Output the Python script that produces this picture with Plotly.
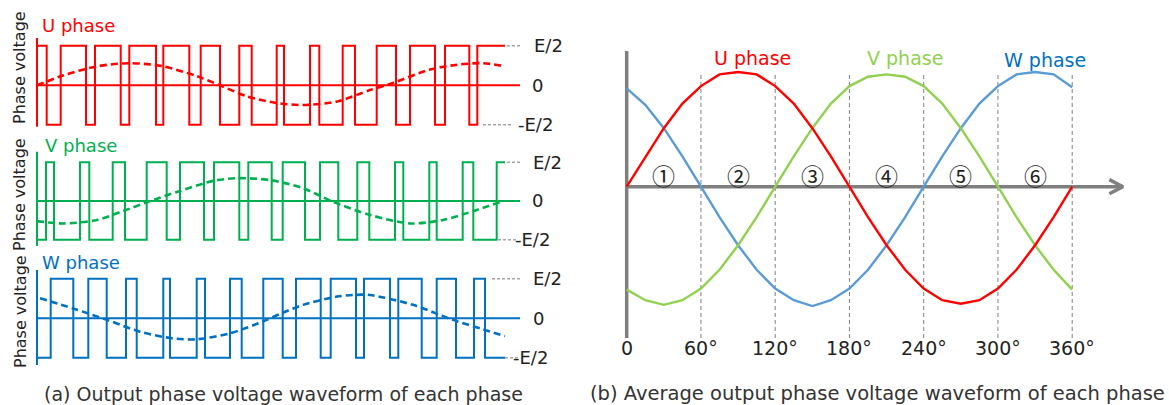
import plotly.graph_objects as go

W_PX, H_PX = 1169, 405

# ---------------- (a) PWM phase voltages ----------------
# time axis t in arbitrary units, levels in units of E/2
t_end = 468
U_start = 1
U_edges = [9.7, 23.7, 49, 58, 83.7, 92.3, 119, 126.3, 152.3, 163.7, 183, 202.3, 214.7,
           239.7, 247, 273, 282.3, 305.7, 318, 339.7, 359, 373, 398, 408, 432.3, 440.3]
V_start = -1
V_edges = [9, 17, 43, 52.3, 75.7, 88, 109.7, 129.7, 143, 167, 177, 202.3, 211.3, 234.7,
           245.7, 268, 283, 301.3, 320.3, 332.3, 358, 366.3, 392.3, 399.7, 425.7, 436.3, 459.7]
W_start = -1
W_edges = [13.7, 36.3, 51.3, 69.7, 89, 99.7, 126.3, 133, 159.7, 168, 193, 204.7, 226.3,
           245.7, 259, 283.7, 293.7, 319, 327, 353, 361.3, 384.7, 399.7, 419, 437, 448]

# average (dashed) waveforms
U_avg_t = [0, 26, 60, 93, 126, 160, 183, 210, 238, 266, 300, 333, 356, 393, 420, 446, 468]
U_avg_v = [0, 0.25, 0.48, 0.56, 0.48, 0.23, 0, -0.28, -0.44, -0.5, -0.41, -0.12, 0.06, 0.4, 0.52, 0.56, 0.48]
V_avg_t = [0, 26, 60, 86, 110, 143, 176, 200, 233, 266, 296, 333, 373, 406, 440, 466]
V_avg_v = [-0.52, -0.58, -0.49, -0.26, -0.03, 0.26, 0.52, 0.59, 0.54, 0.33, -0.02, -0.36, -0.58, -0.49, -0.23, 0]
W_avg_t = [3, 36, 70, 103, 136, 160, 193, 226, 243, 266, 300, 316, 333, 376, 416, 446, 468]
W_avg_v = [0.51, 0.25, -0.04, -0.34, -0.51, -0.53, -0.38, -0.08, 0.11, 0.34, 0.55, 0.59, 0.59, 0.34, -0.04, -0.28, -0.45]

level_labels = ["E/2", "0", "-E/2"]
level_values = [1, 0, -1]

# ---------------- (b) average phase voltages ----------------
deg = [0, 15, 30, 45, 60, 75, 90, 105, 120, 135, 150, 165, 180,
       195, 210, 225, 240, 255, 270, 285, 300, 315, 330, 345, 360]
U_b = [0, 0.25, 0.5, 0.71, 0.86, 0.96, 0.98, 0.96, 0.86, 0.71, 0.5, 0.26, 0,
       -0.26, -0.5, -0.71, -0.87, -0.97, -1.0, -0.97, -0.87, -0.71, -0.5, -0.26, 0]
V_b = [-0.88, -0.97, -1.01, -0.97, -0.87, -0.71, -0.5, -0.26, 0, 0.26, 0.5, 0.71, 0.86,
       0.94, 0.96, 0.94, 0.86, 0.71, 0.5, 0.26, 0, -0.26, -0.5, -0.71, -0.88]
W_b = [0.84, 0.7, 0.5, 0.26, 0, -0.26, -0.5, -0.71, -0.87, -0.97, -1.02, -0.97, -0.87,
       -0.71, -0.5, -0.26, 0, 0.26, 0.5, 0.71, 0.86, 0.96, 0.98, 0.96, 0.85]
tick_deg = [0, 60, 120, 180, 240, 300, 360]
tick_text = ["0", "60°", "120°", "180°", "240°", "300°", "360°"]
sector_deg = [30, 90, 150, 210, 270, 330]
sector_text = ["①", "②", "③", "④", "⑤", "⑥"]

FONT = "DejaVu Sans"
TXT = "#222222"
GRAY = "#7F7F7F"


def px_x(p):
    return p / W_PX


def px_y(p):
    return 1 - p / H_PX


def step_xy(start, edges, end):
    xs, ys, lvl = [0], [start], start
    for e in edges:
        xs += [e, e]
        ys += [lvl, -lvl]
        lvl = -lvl
    xs.append(end)
    ys.append(lvl)
    return xs, ys


fig = go.Figure()
ann = []

strips = [
    ("U phase", "#FF0000", U_start, U_edges, U_avg_t, U_avg_v, "", 85.3, 39.5, (1.2, -1.05), 68, (40, 25),
     [(470, 483, 1), (446, 476, -1)], [495, 493, 479]),
    ("V phase", "#00B050", V_start, V_edges, V_avg_t, V_avg_v, "2", 201.0, 38.7, (1.27, -1.16), 195, (43, 145),
     [(470, 483, 1), (461, 480, -1)], [494, 493, 476]),
    ("W phase", "#0070C0", W_start, W_edges, W_avg_t, W_avg_v, "3", 318.3, 39.5, (1.22, -1.18), 312, (40, 262),
     [(455, 483, 1), (468, 483, -1)], [494, 494, 474]),
]

x_lo_px, x_hi_px = 30, 590
t_lo = -7
t_hi = t_lo + (x_hi_px - x_lo_px)
layout_axes = {}
for (name, col, st, edges, at, av, suf, zpx, upx, ext, lab_px, name_px, dashes, labx) in strips:
    xa, ya = "x" + suf, "y" + suf
    ylo, yhi = -1.3, 1.3
    top_px = zpx - yhi * upx
    bot_px = zpx - ylo * upx
    layout_axes["xaxis" + suf] = dict(domain=[px_x(x_lo_px), px_x(x_hi_px)], range=[t_lo, t_hi],
                                      visible=False, anchor=ya)
    layout_axes["yaxis" + suf] = dict(domain=[px_y(bot_px), px_y(top_px)], range=[ylo, yhi],
                                      visible=False, anchor=xa)
    fig.add_trace(go.Scatter(x=[0, 0], y=[ext[0], ext[1]], mode="lines", xaxis=xa, yaxis=ya,
                             line=dict(color=col, width=2), hoverinfo="skip"))
    fig.add_trace(go.Scatter(x=[0, 483], y=[0, 0], mode="lines", xaxis=xa, yaxis=ya,
                             line=dict(color=col, width=2), hoverinfo="skip"))
    for (d0, d1, lv) in dashes:
        fig.add_trace(go.Scatter(x=[d0, d1], y=[lv, lv], mode="lines", xaxis=xa, yaxis=ya,
                                 line=dict(color="#A6A6A6", width=1.5, dash="3px,2px"), hoverinfo="skip"))
    sx, sy = step_xy(st, edges, t_end)
    fig.add_trace(go.Scatter(x=sx, y=sy, mode="lines", xaxis=xa, yaxis=ya,
                             line=dict(color=col, width=2), hoverinfo="skip"))
    fig.add_trace(go.Scatter(x=at, y=av, mode="lines", xaxis=xa, yaxis=ya,
                             line=dict(color=col, width=2.6, dash="7px,4px", shape="spline", smoothing=0.8),
                             hoverinfo="skip"))
    for txt, lv, lx in zip(level_labels, level_values, labx):
        ann.append(dict(x=lx, y=lv, xref=xa, yref=ya, text=txt, showarrow=False, xanchor="left",
                        yanchor="middle", font=dict(family=FONT, size=18, color=TXT)))
    ann.append(dict(x=px_x(name_px[0]), y=px_y(name_px[1]), xref="paper", yref="paper", text=name,
                    showarrow=False, xanchor="left", yanchor="middle",
                    font=dict(family=FONT, size=18, color=col)))
    ann.append(dict(x=px_x(20), y=px_y(lab_px), xref="paper", yref="paper", text="Phase voltage",
                    showarrow=False, textangle=-90, xanchor="center", yanchor="middle",
                    font=dict(family=FONT, size=16, color=TXT)))

# ---------------- right panel axes ----------------
x0_px, deg_px = 626.7, 1.2375
z_px, unit_px = 186.7, 117.0
bx_lo, bx_hi = 600, 1135
by_top, by_bot = 45, 365
layout_axes["xaxis4"] = dict(domain=[px_x(bx_lo), px_x(bx_hi)],
                             range=[(bx_lo - x0_px) / deg_px, (bx_hi - x0_px) / deg_px],
                             visible=False, anchor="y4")
layout_axes["yaxis4"] = dict(domain=[px_y(by_bot), px_y(by_top)],
                             range=[(z_px - by_bot) / unit_px, (z_px - by_top) / unit_px],
                             visible=False, anchor="x4")

for d in tick_deg[1:]:
    fig.add_trace(go.Scatter(x=[d, d], y=[-1.293, 0.98], mode="lines", xaxis="x4", yaxis="y4",
                             line=dict(color=GRAY, width=1, dash="4px,3px"), hoverinfo="skip"))
fig.add_trace(go.Scatter(x=[0, 0], y=[-1.293, 1.16], mode="lines", xaxis="x4", yaxis="y4",
                         line=dict(color=GRAY, width=3.5), hoverinfo="skip"))
fig.add_trace(go.Scatter(x=[0, 400.5], y=[0, 0], mode="lines", xaxis="x4", yaxis="y4",
                         line=dict(color=GRAY, width=3.5), hoverinfo="skip"))
fig.add_trace(go.Scatter(x=[390, 401, 390], y=[0.06, 0, -0.06], mode="lines", xaxis="x4", yaxis="y4",
                         line=dict(color=GRAY, width=3.5), hoverinfo="skip"))

for vals, col in [(W_b, "#5B9BD5"), (V_b, "#92D050"), (U_b, "#FF0000")]:
    fig.add_trace(go.Scatter(x=deg, y=vals, mode="lines", xaxis="x4", yaxis="y4",
                             line=dict(color=col, width=2.4), hoverinfo="skip"))

for d, t in zip(tick_deg, tick_text):
    ann.append(dict(x=d, y=-1.38, xref="x4", yref="y4", text=t, showarrow=False,
                    xanchor="center", yanchor="middle", font=dict(family=FONT, size=19, color=TXT)))
for d, t in zip(sector_deg, sector_text):
    ann.append(dict(x=d, y=0.1, xref="x4", yref="y4", text=t, showarrow=False,
                    xanchor="center", yanchor="middle",
                    font=dict(family="Noto Sans CJK JP", size=23, color=TXT)))
for (txt, d, yv, col) in [("U phase", 102, 1.10, "#FF0000"), ("V phase", 225, 1.10, "#92D050"),
                          ("W phase", 338, 1.08, "#0070C0")]:
    ann.append(dict(x=d, y=yv, xref="x4", yref="y4", text=txt, showarrow=False,
                    xanchor="center", yanchor="middle", font=dict(family=FONT, size=19, color=col)))

ann.append(dict(x=px_x(283), y=px_y(394), xref="paper", yref="paper",
                text="(a) Output phase voltage waveform of each phase", showarrow=False,
                xanchor="center", yanchor="middle", font=dict(family=FONT, size=19, color="#333333")))
ann.append(dict(x=px_x(877), y=px_y(393), xref="paper", yref="paper",
                text="(b) Average output phase voltage waveform of each phase", showarrow=False,
                xanchor="center", yanchor="middle", font=dict(family=FONT, size=19.5, color="#333333")))

fig.update_layout(width=W_PX, height=H_PX, autosize=False, margin=dict(l=0, r=0, t=0, b=0),
                  paper_bgcolor="white", plot_bgcolor="rgba(0,0,0,0)", showlegend=False,
                  annotations=ann, **layout_axes)
fig.write_html("out.html", config={"displayModeBar": False},
               post_script="document.body.style.margin='0';document.body.style.padding='0';"
                           "document.documentElement.style.overflow='hidden';")
